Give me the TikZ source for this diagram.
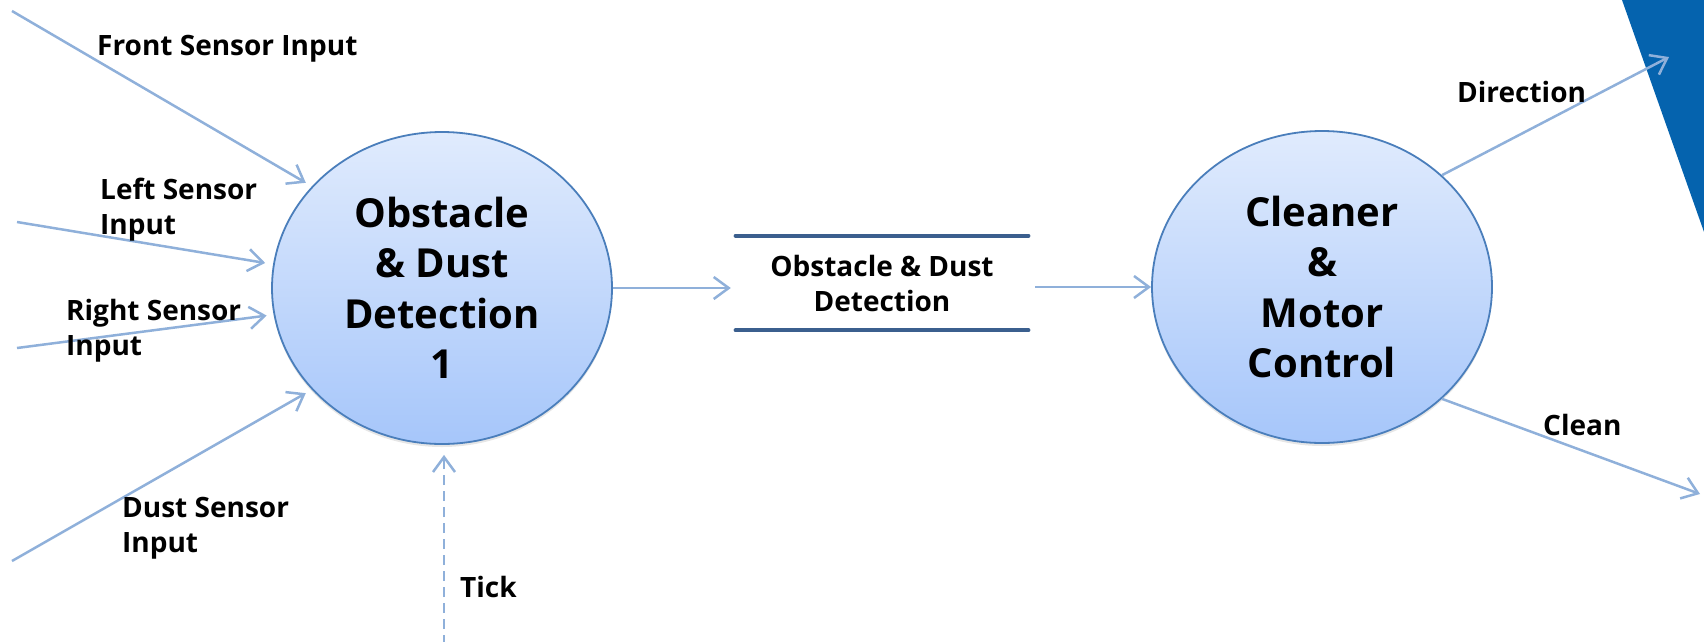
\documentclass[tikz,border=0pt]{standalone}
\usepackage{fontspec}
\setmainfont{Open Sans}
\usepackage{tikz}
\usetikzlibrary{shapes.geometric, arrows.meta, shadows}
\definecolor{flowblue}{HTML}{8FB0DA}
\definecolor{procedge}{HTML}{4A7EBB}
\definecolor{proctop}{HTML}{E0EBFD}
\definecolor{procbot}{HTML}{A6C6FA}
\definecolor{storeblue}{HTML}{3B5F8E}
\definecolor{cornerblue}{HTML}{0563AE}

\begin{document}
\begin{tikzpicture}[
    x=1pt, y=-1pt,
    process/.style={ellipse, draw=procedge, line width=1.8pt,
                    top color=proctop, bottom color=procbot,
                    minimum width=340pt, minimum height=312pt, inner sep=0pt,
                    align=center, font=\fontsize{40}{50.5}\selectfont\bfseries,
                    drop shadow={opacity=0.2, shadow xshift=0pt, shadow yshift=-3pt}},
    store/.style={minimum width=292pt, minimum height=94pt, inner sep=0pt,
                  align=center, font=\fontsize{28}{35}\selectfont\bfseries},
    storeline/.style={line width=4.5pt, storeblue, line cap=round},
    lbl/.style={anchor=base west, inner sep=0pt, align=left,
                font=\fontsize{28}{35}\selectfont\bfseries},
    flow/.style={-{Straight Barb[length=15pt,width=22pt]}, line width=2.5pt, flowblue},
    tickflow/.style={flow, dash pattern=on 10pt off 6pt}
]
\useasboundingbox (0,0) rectangle (1704,641);

% corner decoration
\fill[cornerblue] (1622,0) -- (1704,0) -- (1704,232) -- cycle;

% Processes
\node[process] at (442,288) (det) {Obstacle\\\& Dust\\Detection\\1};
\node[process] at (1322,287) (ctrl) {Cleaner\\\&\\Motor\\Control};

% Data store
\node[store] at (882,283) (dstore) {Obstacle \& Dust\\Detection};
\draw[storeline] (dstore.north west) -- (dstore.north east);
\draw[storeline] (dstore.south west) -- (dstore.south east);

% Free ends
\coordinate (fsrc) at (12,11);
\coordinate (lsrc) at (17,222);
\coordinate (rsrc) at (17,348);
\coordinate (dsrc) at (12,561);
\coordinate (tsrc) at (444,645);
\coordinate (dtip) at (1669,57);
\coordinate (ctip) at (1700,494);

% Inputs
\draw[flow, shorten >=7pt] (fsrc) -- (det.142);
\draw[flow, shorten >=8pt] (lsrc) -- (det.172);
\draw[flow, shorten >=7pt] (rsrc) -- (det.189.5);
\draw[flow, shorten >=7pt] (dsrc) -- (det.218.5);
\draw[tickflow, shorten >=10pt] (tsrc) -- (tsrc |- det.south);

% Flows
\draw[flow, shorten >=5pt] (det.east) -- (det.east -| dstore.west);
\draw[flow, shorten <=7pt] (ctrl.west -| dstore.east) -- (ctrl.west);
\draw[flow] (ctrl.43) -- (dtip);
\draw[flow] (ctrl.-43) -- (ctip);

% Labels (base = last line)
\node[lbl] at (97,55) (lfront) {Front Sensor Input};
\node[lbl] at (100,234) (lleft) {Left Sensor\\Input};
\node[lbl] at (66,355) (lright) {Right Sensor\\Input};
\node[lbl] at (122,552) (ldust) {Dust Sensor\\Input};
\node[lbl] at (460,597) (ltick) {Tick};
\node[lbl] at (1457,102) (ldir) {Direction};
\node[lbl] at (1543,435) (lclean) {Clean};

\end{tikzpicture}
\end{document}
